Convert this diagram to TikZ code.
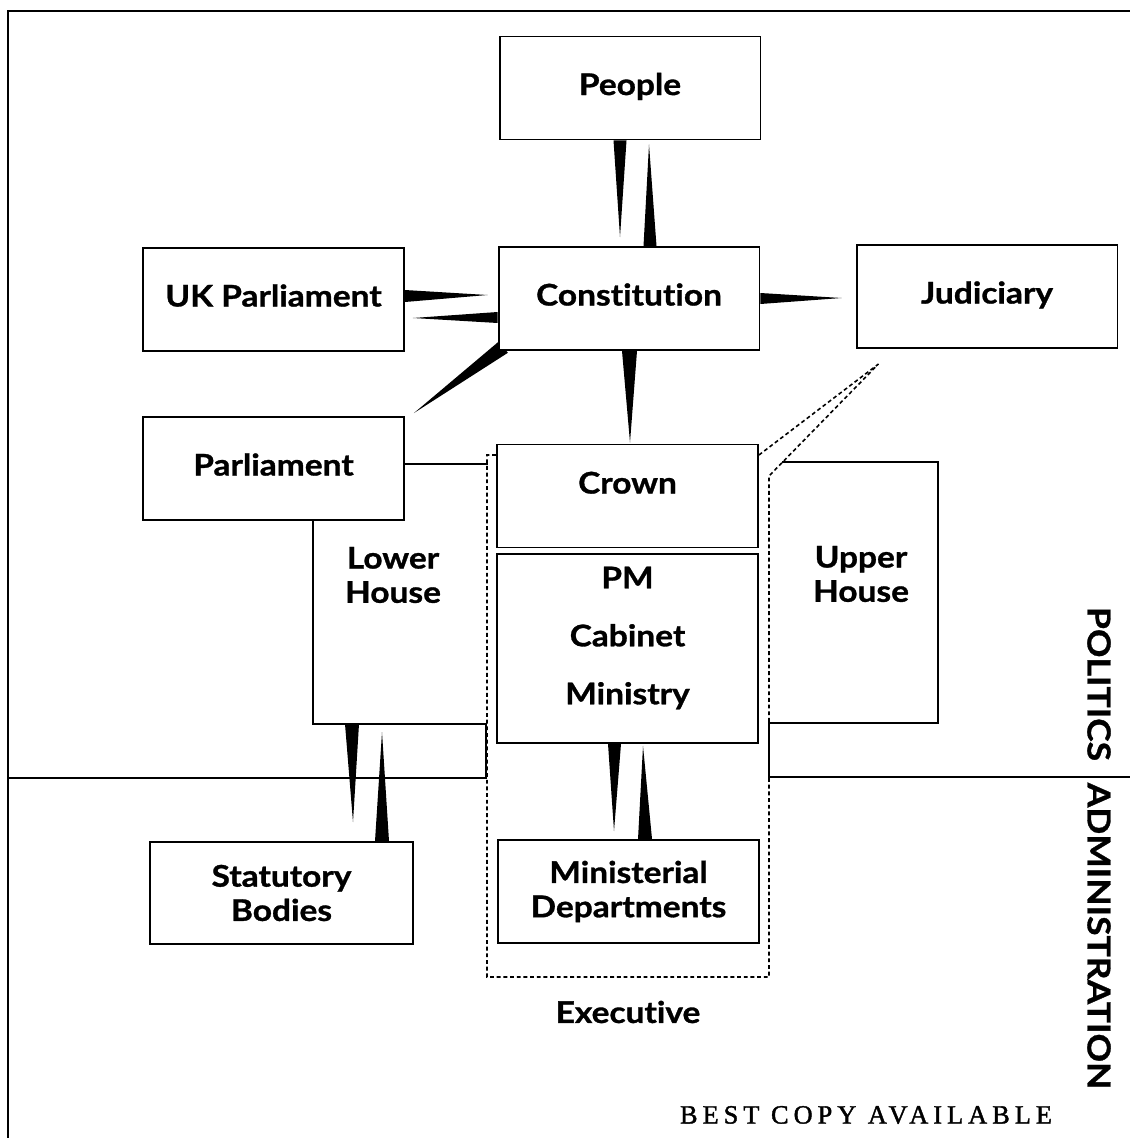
\documentclass[tikz,border=0pt]{standalone}
\usepackage{fontspec}
\setmainfont{Lato}[Ligatures=NoCommon, BoldFeatures={FakeStretch=1.12, FakeBold=1}]
\newfontfamily\stampfont{Liberation Serif}[LetterSpace=19, FakeBold=1.5]
\usetikzlibrary{calc, backgrounds}

\newcommand{\spike}[5]{%
  \path ($(#1)+(#2)$) coordinate (sb) ($(#3)+(#4)$) coordinate (st);
  \fill ($(sb)!#5!90:(st)$) -- (st) -- ($(sb)!#5!-90:(st)$) -- cycle;}

\begin{document}
\begin{tikzpicture}[
    x=0.02cm, y=-0.02cm,
    box/.style={
      rectangle, draw, line width=1.1pt, fill=white, align=center,
      minimum width=5.22cm, minimum height=2.06cm, inner sep=0pt,
      font=\fontsize{17}{19.5}\selectfont\bfseries
    },
    one/.style={text height=12pt, text depth=4pt},
    tag/.style={align=center, font=\fontsize{17}{19.5}\selectfont\bfseries},
    side/.style={align=center, rotate=-90, font=\fontsize{18}{20}\selectfont\bfseries},
    rim/.style={line width=1.1pt},
    exec/.style={dash pattern=on 2.2pt off 1.6pt, line width=0.9pt}
  ]
    \useasboundingbox (0,0) rectangle (1130,1138);
    \draw[line width=1.7pt] (8,1138) -- (8,11) -- (1130,11);

    \node[box, one] (people) at (630,88)      {People};
    \node[box, one] (const)  at (629,298.5)   {Constitution};
    \node[box, one] (ukparl) at (273.5,299.5) {UK Parliament};
    \node[box, one] (parl)   at (273.5,468.5) {Parliament};
    \node[box, one] (judic)  at (987,296.5)   {Judiciary};
    \node[box, text height=12pt, text depth=14.8pt] (crown) at (627.5,496) {Crown};
    \node[box, minimum height=3.78cm] (pm) at (627.5,648.5) {};
    \node[tag] (pmlist) at (627.5,638) {PM\\[13.5pt]Cabinet\\[13.5pt]Ministry};
    \node[box] (mindep) at (628.5,891.5) {Ministerial\\Departments};
    \node[box, minimum width=5.26cm, minimum height=2.04cm] (statb) at (281.5,893) {Statutory\\Bodies};

    \draw[rim] (313,520) -- (313,724) -- (486,724) -- (486,778) -- (8,778);
    \draw[rim] (782,462) -- (938,462) -- (938,723) -- (769,723) -- (769,777) -- (1130,777);
    \coordinate (lowbase) at (352,724);
    \node[tag] (lowerh) at (393,575) {Lower\\House};
    \node[tag] (upperh) at (861,574) {Upper\\House};

    \draw[rim] ($(parl.east)+(0,-4.5)$) -- ++(83,0);
    \coordinate (judfoot) at ($(judic.south west)+(21,17)$);
    \draw[exec] ($(crown.west)+(0,-41)$) -- (487,455) -- (487,977) -- (769,977) -- (769,476) -- (judfoot);
    \draw[exec] ($(crown.east)+(0,-41)$) -- ($(judfoot)+(2,-2)$);

    \node[tag] (exec) at (628,1012) {Executive};
    \node[side] (politics) at (1099,684) {POLITICS};
    \node[side] (admin)    at (1099,936) {ADMINISTRATION};
    \node[font=\stampfont\fontsize{15}{18}\selectfont] (stamp) at (866,1115) {BEST COPY AVAILABLE};

    \begin{scope}[on background layer]
      \spike{people.south}{-10,0}{const.north}{-9,-9}{0.13cm}
      \spike{const.north}{21,0}{people.south}{19,4}{0.13cm}
      \spike{ukparl.east}{0,-3.5}{const.west}{-10,-3.5}{0.12cm}
      \spike{const.west}{0,19}{ukparl.east}{8,18.5}{0.11cm}
      \spike{const.south west}{6,-4}{parl.north east}{9,-3}{0.145cm}
      \spike{const.east}{0,0}{judic.west}{-14,1.5}{0.11cm}
      \spike{const.south}{0.5,0}{crown.north}{2.5,-1}{0.15cm}
      \spike{pm.south}{-13,0}{mindep.north}{-14.5,-8}{0.13cm}
      \spike{mindep.north}{16.5,0}{pm.south}{15.5,2}{0.14cm}
      \spike{lowbase}{0,0}{statb.north}{71.5,-19}{0.14cm}
      \spike{statb.north}{100.5,0}{lowbase}{30,8}{0.14cm}
    \end{scope}
  \end{tikzpicture}
\end{document}
